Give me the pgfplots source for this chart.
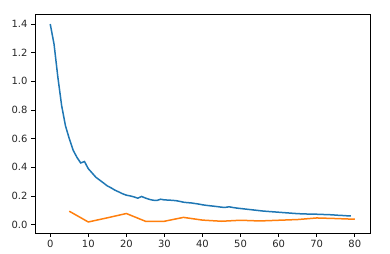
\documentclass[border=0pt]{standalone}
\usepackage{pgfplots}
\pgfplotsset{compat=1.18}
\usepackage{fontspec}
\setmainfont{DejaVu Sans}
\definecolor{mplblue}{HTML}{1F77B4}
\definecolor{mplorange}{HTML}{FF7F0E}
\begin{document}
\begin{tikzpicture}
\begin{axis}[
  scale only axis,
  width=335bp, height=219bp,
  xmin=-4, xmax=84,
  ymin=-0.059, ymax=1.47,
  xtick={0,10,20,30,40,50,60,70,80},
  ytick={0,0.2,0.4,0.6,0.8,1.0,1.2,1.4},
  yticklabel style={/pgf/number format/.cd,fixed,fixed zerofill,precision=1},
  /pgf/number format/assume math mode=true,
  tick align=outside,
  tick pos=left,
  major tick length=3.5bp,
  axis line style={line width=0.8bp},
  every tick/.style={line width=0.8bp, black},
  tick label style={font=\fontsize{10}{11}\selectfont, text=black!85},
  xticklabel shift=0.5bp,
  yticklabel shift=0.5bp,
  clip=false,
]
\addplot[mplblue, line width=1.5bp] coordinates {
(0,1.40) (1,1.26) (2,1.03) (3,0.83) (4,0.69) (5,0.60) (6,0.52) (7,0.47) (8,0.43) (9,0.44)
(10,0.39) (11,0.36) (12,0.33) (13,0.31) (14,0.29) (15,0.27) (16,0.256) (17,0.24) (18,0.228) (19,0.215)
(20,0.205) (21,0.20) (22,0.193) (23,0.184) (24,0.196) (25,0.185) (26,0.176) (27,0.17) (28,0.168) (29,0.177)
(30,0.172) (31,0.171) (32,0.169) (33,0.167) (34,0.162) (35,0.156) (36,0.153) (37,0.151) (38,0.147) (39,0.143)
(40,0.138) (41,0.134) (42,0.131) (43,0.128) (44,0.125) (45,0.121) (46,0.12) (47,0.124) (48,0.119) (49,0.115)
(50,0.112) (51,0.109) (52,0.106) (53,0.103) (54,0.1) (55,0.097) (56,0.094) (57,0.092) (58,0.09) (59,0.088)
(60,0.086) (61,0.084) (62,0.082) (63,0.08) (64,0.078) (65,0.076) (66,0.075) (67,0.074) (68,0.073) (69,0.073)
(70,0.072) (71,0.071) (72,0.07) (73,0.069) (74,0.068) (75,0.066) (76,0.064) (77,0.063) (78,0.061) (79,0.06)
};
\addplot[mplorange, line width=1.5bp] coordinates {
(5,0.093) (10,0.018) (15,0.047) (20,0.077) (25,0.023) (30,0.023) (35,0.05) (40,0.031)
(45,0.023) (50,0.03) (55,0.025) (60,0.03) (65,0.035) (70,0.046) (75,0.042) (80,0.037)
};
\end{axis}
\path (current axis.south west) ++(-35bp,-21bp) rectangle ++(390bp,254bp);
\end{tikzpicture}
\end{document}
